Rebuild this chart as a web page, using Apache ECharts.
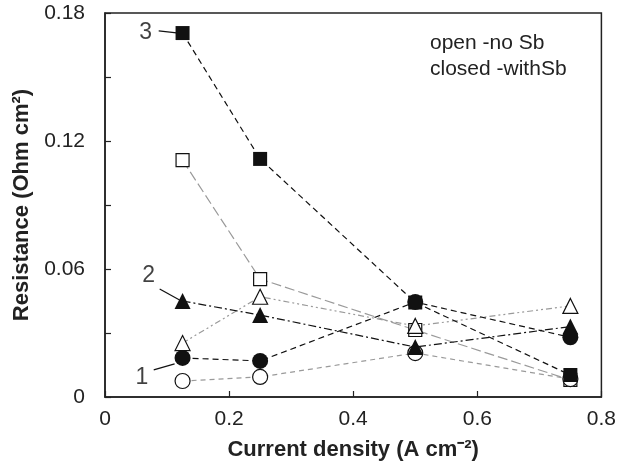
<!DOCTYPE html>
<html>
<head>
<meta charset="utf-8">
<script src="https://cdn.jsdelivr.net/npm/echarts@6/dist/echarts.min.js"></script>
<style>
html,body{margin:0;padding:0;background:#fff;}
#chart{width:619px;height:466px;}
</style>
</head>
<body>
<div id="chart"></div>
<script>
// current density values (A cm-2)
var currents = [0.125, 0.25, 0.5, 0.75];
// resistance (Ohm cm2), closed = with Sb, open = no Sb
var sqClosed = [0.1706, 0.1116, 0.0443, 0.0103];
var sqOpen = [0.1110, 0.0553, 0.0314, 0.0080];
var triClosed = [0.0450, 0.0384, 0.0234, 0.0330];
var triOpen = [0.0253, 0.0470, 0.0333, 0.0427];
var cirClosed = [0.0183, 0.0169, 0.0445, 0.0280];
var cirOpen = [0.0075, 0.0094, 0.0206, 0.0084];
var xTicks = [0, 0.2, 0.4, 0.6, 0.8];
var yTicks = [0, 0.06, 0.12, 0.18];

// curve numbers and their leader lines, in data units
var curveLabels = [
    {text: '3', at: [0.0657, 0.1710], from: [0.0865, 0.1716], to: [0.1154, 0.1707]},
    {text: '2', at: [0.0705, 0.0567], from: [0.0881, 0.0506], to: [0.1202, 0.0455]},
    {text: '1', at: [0.0593, 0.0089], from: [0.0785, 0.0127], to: [0.1122, 0.0155]}
];

function pairs(ys){
    var out = [];
    for(var i=0;i<currents.length;i++){
        out.push([currents[i], ys[i]]);
    }
    return out;
}

var font = 'Liberation Sans, Arial, sans-serif';
var gray = '#9a9a9a';

function mkSeries(name, ys, symbol, size, filled, lineColor, dash, z){
    return {
        name: name,
        type: 'line',
        data: pairs(ys),
        symbol: symbol,
        symbolSize: size,
        showAllSymbol: true,
        z: z,
        lineStyle: {color: lineColor, width: 1.2, type: dash},
        itemStyle: {
            color: filled ? '#111' : '#fff',
            borderColor: '#111',
            borderWidth: filled ? 0 : 1.2
        },
        emphasis: {disabled: true},
        animation: false
    };
}

var chart = echarts.init(document.getElementById('chart'));

var series = [
    mkSeries('open squares', sqOpen, 'rect', 13, false, gray, [10, 4], 2),
    mkSeries('open triangles', triOpen, 'triangle', 15, false, gray, [6, 3, 2, 3, 2, 3], 3),
    mkSeries('open circles', cirOpen, 'circle', 15, false, gray, [5, 4], 3),
    mkSeries('closed squares', sqClosed, 'rect', 14, true, '#111', [6, 4], 4),
    mkSeries('closed triangles', triClosed, 'triangle', 16, true, '#111', [8, 3, 2, 3], 5),
    mkSeries('closed circles', cirClosed, 'circle', 16, true, '#111', [6, 4], 6)
];

// leader lines for the curve numbers
series.push({
    type: 'line',
    data: [],
    silent: true,
    markLine: {
        symbol: 'none',
        silent: true,
        animation: false,
        lineStyle: {color: '#111', width: 1.2, type: 'solid'},
        label: {show: false},
        data: curveLabels.map(function(c){
            return [{coord: c.from}, {coord: c.to}];
        })
    }
});

// curve numbers
series.push({
    type: 'scatter',
    symbolSize: 1,
    itemStyle: {color: 'rgba(0,0,0,0)'},
    silent: true,
    animation: false,
    data: curveLabels.map(function(c){
        return {value: c.at, label: {show: true, formatter: c.text}};
    }),
    label: {
        position: 'inside',
        color: '#111',
        fontSize: 23,
        fontFamily: font
    }
});

var option = {
    backgroundColor: '#fff',
    animation: false,
    grid: {
        left: 105,
        right: 13,
        top: 13,
        bottom: 69,
        show: true,
        borderColor: '#222',
        borderWidth: 1.5,
        backgroundColor: 'transparent'
    },
    xAxis: {
        type: 'value',
        min: xTicks[0],
        max: xTicks[xTicks.length-1],
        interval: 0.2,
        name: 'Current density (A cm\u207B\u00B2)',
        nameLocation: 'middle',
        nameGap: 42,
        nameTextStyle: {fontFamily: font, fontWeight: 'bold', fontSize: 22, color: '#222'},
        axisLine: {show: true, lineStyle: {color: '#222', width: 1.5}},
        axisTick: {show: true, inside: true, length: 6, lineStyle: {color: '#222', width: 1.2}},
        axisLabel: {
            fontFamily: font, fontSize: 21, color: '#222', margin: 12,
            formatter: function(v){
                var r = Math.round(v*10)/10;
                return xTicks.indexOf(r) >= 0 ? String(r) : '';
            }
        },
        splitLine: {show: false}
    },
    yAxis: {
        type: 'value',
        min: 0,
        max: 0.18,
        interval: 0.03,
        name: 'Resistance (Ohm cm\u00B2)',
        nameLocation: 'middle',
        nameGap: 72,
        nameTextStyle: {fontFamily: font, fontWeight: 'bold', fontSize: 22, color: '#222'},
        axisLine: {show: true, lineStyle: {color: '#222', width: 1.5}},
        axisTick: {show: true, inside: true, length: 6, lineStyle: {color: '#222', width: 1.2}},
        axisLabel: {
            fontFamily: font, fontSize: 21, color: '#222', margin: 20,
            formatter: function(v){
                var r = Math.round(v*100)/100;
                return yTicks.indexOf(r) >= 0 ? String(r) : '';
            }
        },
        splitLine: {show: false}
    },
    graphic: [{
        type: 'text',
        left: 430,
        top: 30,
        silent: true,
        style: {
            text: 'open -no Sb\nclosed -withSb',
            fontFamily: font,
            fontSize: 21,
            lineHeight: 26,
            fill: '#222'
        }
    }],
    series: series
};

chart.setOption(option);
</script>
</body>
</html>
